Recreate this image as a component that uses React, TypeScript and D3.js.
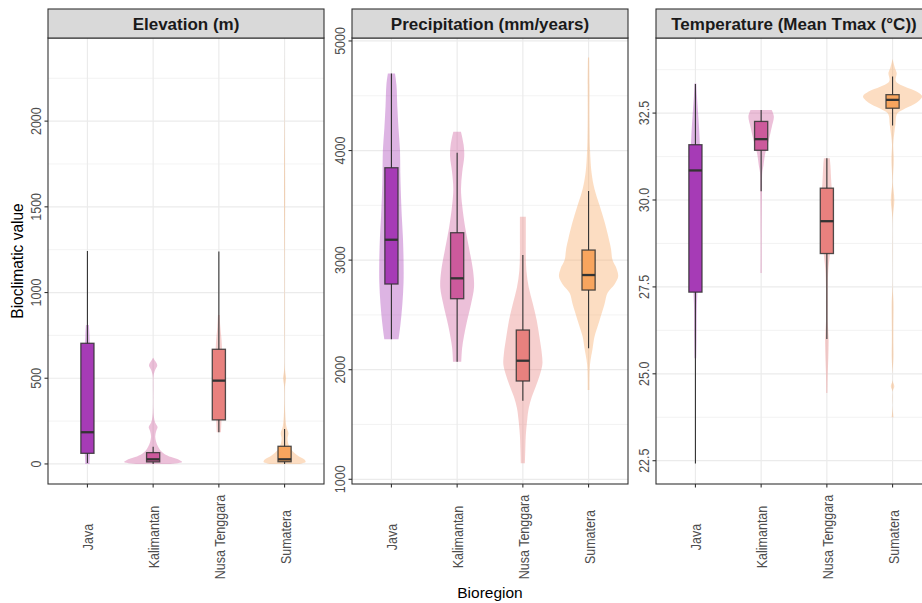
import React from "react";
import * as d3 from "d3";

// categories and colours
const bioregions = ["Java", "Kalimantan", "Nusa Tenggara", "Sumatera"];
const regionColors = ["#A63BB6", "#CC5A9C", "#E8817E", "#F8A55E"];

const panelTitles = ["Elevation (m)", "Precipitation (mm/years)", "Temperature (Mean Tmax (°C))"];

// axis ticks
const elevTicks = [0, 500, 1000, 1500, 2000];
const elevMinor = [250, 750, 1250, 1750, 2250];
const precipTicks = [1000, 2000, 3000, 4000, 5000];
const precipMinor = [1500, 2500, 3500, 4500];
const tempTicks = [22.5, 25, 27.5, 30, 32.5];
const tempMinor = [23.75, 26.25, 28.75, 31.25, 33.75];
const tempTickLabels = ["22.5", "25.0", "27.5", "30.0", "32.5"];

// boxplot stats: [lower whisker, q1, median, q3, upper whisker]
const elevBoxes = [
  [5, 62, 185, 704, 1243],
  [0, 12, 27, 66, 101],
  [185, 257, 486, 669, 1239],
  [0, 13, 27, 103, 204],
];
const precipBoxes = [
  [2277, 2782, 3186, 3843, 4704],
  [2073, 2648, 2834, 3250, 3980],
  [1717, 1897, 2082, 2362, 3047],
  [2195, 2727, 2864, 3092, 3630],
];
const tempBoxes = [
  [22.42, 27.35, 30.85, 31.59, 33.34],
  [30.25, 31.43, 31.75, 32.26, 32.59],
  [26.0, 28.46, 29.39, 30.34, 31.2],
  [32.14, 32.64, 32.88, 33.03, 33.55],
];

// violin profiles: [value, relative density]
type Profile = [number, number][];

const elevJava: Profile = [[0, 0.07], [100, 0.1], [200, 0.12], [400, 0.12], [600, 0.1], [750, 0.07], [811, 0.05]];
const elevKalimantan: Profile = [
  [0, 0.5], [12, 0.98], [22, 0.9], [40, 0.61], [60, 0.37], [80, 0.24], [100, 0.17], [130, 0.1], [160, 0.07],
  [190, 0.1], [215, 0.15], [240, 0.07], [270, 0.03], [320, 0.01], [450, 0.01], [520, 0.02], [550, 0.07],
  [575, 0.14], [600, 0.07], [620, 0],
];
const elevNusa: Profile = [[185, 0.07], [300, 0.1], [500, 0.12], [700, 0.1], [800, 0.05], [869, 0.03]];
const elevSumatera: Profile = [
  [0, 0.47], [12, 0.71], [25, 0.68], [50, 0.44], [80, 0.24], [110, 0.14], [150, 0.1], [180, 0.13], [220, 0.06],
  [300, 0.02], [450, 0.015], [500, 0.05], [550, 0.015], [800, 0.01], [1200, 0.01], [1600, 0.02], [2000, 0.006], [2400, 0],
];

const precipJava: Profile = [
  [2277, 0.24], [2400, 0.3], [2600, 0.37], [2800, 0.41], [3000, 0.41], [3200, 0.39], [3400, 0.35], [3600, 0.32],
  [3800, 0.3], [4000, 0.29], [4200, 0.24], [4400, 0.2], [4600, 0.17], [4704, 0.12],
];
const precipKalimantan: Profile = [
  [2073, 0.14], [2200, 0.17], [2400, 0.3], [2600, 0.47], [2750, 0.57], [2900, 0.54], [3100, 0.41], [3300, 0.27],
  [3500, 0.17], [3650, 0.13], [3800, 0.17], [3950, 0.24], [4050, 0.22], [4171, 0.13],
];
const precipNusa: Profile = [
  [1146, 0.07], [1250, 0.08], [1400, 0.1], [1550, 0.15], [1650, 0.2], [1750, 0.3], [1850, 0.44], [1950, 0.57],
  [2050, 0.66], [2150, 0.64], [2300, 0.56], [2450, 0.47], [2600, 0.34], [2750, 0.2], [2900, 0.12], [3050, 0.1],
  [3200, 0.1], [3396, 0.1],
];
const precipSumatera: Profile = [
  [1815, 0.03], [1900, 0.03], [2050, 0.05], [2200, 0.14], [2300, 0.2], [2450, 0.37], [2600, 0.54], [2700, 0.64],
  [2780, 0.88], [2850, 1.0], [2920, 0.95], [3000, 0.81], [3100, 0.76], [3200, 0.68], [3350, 0.54], [3500, 0.37],
  [3650, 0.2], [3800, 0.1], [4000, 0.05], [4300, 0.03], [4600, 0.03], [4850, 0.02],
];

const tempJava: Profile = [
  [25.45, 0.03], [26, 0.04], [27, 0.05], [28, 0.1], [29, 0.14], [30, 0.15], [31, 0.17], [31.8, 0.14],
  [32.5, 0.09], [33, 0.05], [33.35, 0.03],
];
const tempKalimantan: Profile = [
  [27.9, 0.02], [29, 0.02], [30.3, 0.03], [30.8, 0.04], [31.0, 0.08], [31.35, 0.14], [31.7, 0.25], [32.1, 0.36],
  [32.4, 0.43], [32.59, 0.36],
];
const tempNusa: Profile = [
  [24.45, 0.02], [25, 0.03], [25.5, 0.05], [26, 0.06], [26.5, 0.03], [27, 0.03], [27.5, 0.03], [28, 0.05],
  [28.4, 0.1], [29, 0.17], [29.5, 0.2], [30, 0.19], [30.5, 0.15], [31, 0.12], [31.2, 0.1],
];
const tempSumatera: Profile = [
  [23.75, 0.03], [24.0, 0.005], [24.5, 0.005], [24.64, 0.06], [24.8, 0.005], [25.5, 0.03], [25.9, 0.025], [26.3, 0.025],
  [27.05, 0.03], [27.5, 0.005], [28.5, 0.005], [29.5, 0.01], [30.0, 0.06], [30.5, 0.01], [31.16, 0.04], [31.6, 0.02],
  [32.0, 0.07], [32.2, 0.1], [32.4, 0.12], [32.5, 0.17], [32.64, 0.44], [32.8, 0.81], [32.98, 1.0], [33.12, 0.81],
  [33.26, 0.42], [33.38, 0.14], [33.46, 0.1], [33.55, 0.12], [33.65, 0.14], [33.8, 0.08], [33.95, 0.03], [34.06, 0],
];

const dimension = { width: 922, height: 603, left: 48, panelWidth: 276, gap: 28, stripTop: 9, top: 38, bottom: 484 };
const FONT = "'Liberation Sans', Arial, Helvetica, sans-serif";

type PanelProps = {
  x0: number;
  title: string;
  domain: [number, number];
  ticks: number[];
  minor: number[];
  tickLabels: string[];
  boxes: number[][];
  violins: Profile[];
  id: string;
};

function Panel({ x0, title, domain, ticks, minor, tickLabels, boxes, violins, id }: PanelProps) {
  const { panelWidth, stripTop, top, bottom } = dimension;
  const x = d3.scalePoint<string>().domain(bioregions).range([x0, x0 + panelWidth]).padding(0.6);
  const y = d3.scaleLinear().domain(domain).range([bottom, top]);
  const dens = d3.scaleLinear().domain([0, 1]).range([0, x.step() * 0.45]);
  const boxW = x.step() * 0.2;

  const violin = (cx: number) =>
    d3
      .area<[number, number]>()
      .y((d) => y(d[0]))
      .x0((d) => cx - dens(d[1]))
      .x1((d) => cx + dens(d[1]))
      .curve(d3.curveCatmullRom);

  return (
    <g>
      <defs>
        <clipPath id={id}>
          <rect x={x0} y={top} width={panelWidth} height={bottom - top} />
        </clipPath>
      </defs>
      <g clipPath={`url(#${id})`}>
        {minor.map((t) => (
          <line key={"mn" + t} x1={x0} x2={x0 + panelWidth} y1={y(t)} y2={y(t)} stroke="#F0F0F0" strokeWidth={0.8} />
        ))}
        {ticks.map((t) => (
          <line key={"mj" + t} x1={x0} x2={x0 + panelWidth} y1={y(t)} y2={y(t)} stroke="#EBEBEB" strokeWidth={1.2} />
        ))}
        {bioregions.map((b) => (
          <line key={"vg" + b} x1={x(b)} x2={x(b)} y1={top} y2={bottom} stroke="#EBEBEB" strokeWidth={1.2} />
        ))}
        {violins.map((v, i) => (
          <path key={"vl" + i} d={violin(x(bioregions[i]) as number)(v) || ""} fill={regionColors[i]} fillOpacity={0.38} />
        ))}
        {boxes.map((b, i) => {
          const cx = x(bioregions[i]) as number;
          const [lo, q1, med, q3, hi] = b;
          return (
            <g key={"bx" + i}>
              <line x1={cx} x2={cx} y1={y(lo)} y2={y(hi)} stroke="#333333" strokeWidth={1.1} />
              <rect
                x={cx - boxW / 2}
                y={y(q3)}
                width={boxW}
                height={y(q1) - y(q3)}
                fill={regionColors[i]}
                stroke="#333333"
                strokeOpacity={0.85}
                strokeWidth={1.3}
              />
              <line x1={cx - boxW / 2} x2={cx + boxW / 2} y1={y(med)} y2={y(med)} stroke="#333333" strokeWidth={2.3} />
            </g>
          );
        })}
      </g>
      <rect x={x0} y={top} width={panelWidth} height={bottom - top} fill="none" stroke="#333333" strokeWidth={1.1} />
      <rect x={x0} y={stripTop} width={panelWidth} height={top - stripTop} fill="#D9D9D9" stroke="#333333" strokeWidth={1.1} />
      <text
        x={x0 + panelWidth / 2}
        y={(stripTop + top) / 2}
        dy="0.36em"
        textAnchor="middle"
        fontFamily={FONT}
        fontWeight="bold"
        fontSize={17}
        fill="#1A1A1A"
      >
        {title}
      </text>
      {ticks.map((t, i) => (
        <g key={"yt" + t}>
          <line x1={x0 - 3.5} x2={x0} y1={y(t)} y2={y(t)} stroke="#333333" strokeWidth={1.1} />
          <text
            transform={`translate(${x0 - 11.5},${y(t)}) rotate(-90) scale(1,1.1)`}
            dy="0.36em"
            textAnchor="middle"
            fontFamily={FONT}
            fontSize={12.5}
            fill="#4D4D4D"
          >
            {tickLabels[i]}
          </text>
        </g>
      ))}
      {bioregions.map((b) => (
        <g key={"xt" + b}>
          <line x1={x(b)} x2={x(b)} y1={bottom} y2={bottom + 3.5} stroke="#333333" strokeWidth={1.1} />
          <text
            transform={`translate(${(x(b) as number) + 1},${537}) rotate(-90) scale(1,1.1)`}
            dy="0.36em"
            textAnchor="middle"
            fontFamily={FONT}
            fontSize={12.5}
            fill="#4D4D4D"
          >
            {b}
          </text>
        </g>
      ))}
    </g>
  );
}

export default function App() {
  const { width, height, left, panelWidth, gap, top, bottom } = dimension;
  const lefts = [0, 1, 2].map((i) => left + i * (panelWidth + gap));
  const plotRight = lefts[2] + panelWidth;

  return (
    <svg
      width={width}
      height={height}
      style={{ position: "absolute", left: 0, top: 0, background: "#FFFFFF" }}
    >
      <rect width={width} height={height} fill="#FFFFFF" />
      <Panel
        id="clip-elev"
        x0={lefts[0]}
        title={panelTitles[0]}
        domain={[-117, 2485]}
        ticks={elevTicks}
        minor={elevMinor}
        tickLabels={elevTicks.map(String)}
        boxes={elevBoxes}
        violins={[elevJava, elevKalimantan, elevNusa, elevSumatera]}
      />
      <Panel
        id="clip-precip"
        x0={lefts[1]}
        title={panelTitles[1]}
        domain={[957, 5027]}
        ticks={precipTicks}
        minor={precipMinor}
        tickLabels={precipTicks.map(String)}
        boxes={precipBoxes}
        violins={[precipJava, precipKalimantan, precipNusa, precipSumatera]}
      />
      <Panel
        id="clip-temp"
        x0={lefts[2]}
        title={panelTitles[2]}
        domain={[21.83, 34.66]}
        ticks={tempTicks}
        minor={tempMinor}
        tickLabels={tempTickLabels}
        boxes={tempBoxes}
        violins={[tempJava, tempKalimantan, tempNusa, tempSumatera]}
      />
      <text
        transform={`translate(17,${(top + bottom) / 2}) rotate(-90) scale(1,1.08)`}
        dy="0.36em"
        textAnchor="middle"
        fontFamily={FONT}
        fontSize={15.5}
        fill="#000000"
      >
        Bioclimatic value
      </text>
      <text x={(left + plotRight) / 2} y={592} dy="0.36em" textAnchor="middle" fontFamily={FONT} fontSize={15.5} fill="#000000">
        Bioregion
      </text>
    </svg>
  );
}
